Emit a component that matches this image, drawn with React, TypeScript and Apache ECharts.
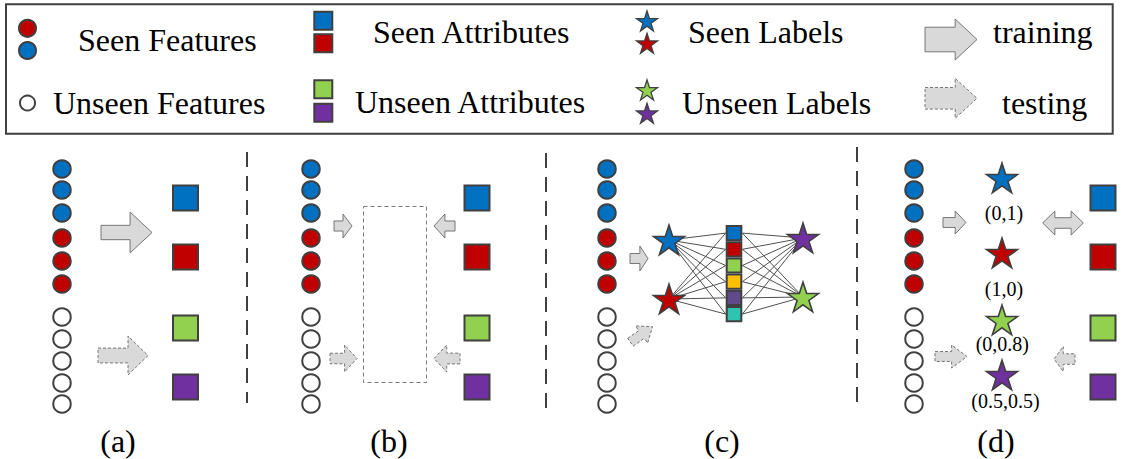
import React, { useEffect, useRef } from "react";
import * as echarts from "echarts";

const FONT_FAMILY = "Liberation Serif, Times New Roman, serif";
const INK = "#404040";
const BLUE = "#0070c0";
const RED = "#c00000";
const GREEN = "#92d050";
const PURPLE = "#7030a0";
const YELLOW = "#ffc000";
const SLATE = "#5f4b8b";
const TEAL = "#2ec4b0";
const WHITE = "#ffffff";
const ARROW_FILL = "#d9d9d9";
const ARROW_LINE = "#767676";

// ---- diagram coordinate space ----
const extentX = [0, 1122];
const extentY = [0, 459];

// ---- legend ----
const legendBoxCorners = [6, 4.3, 1112.7, 133.7]; // x0, y0, x1, y1
const legendTexts = ["Seen Features", "Unseen Features", "Seen Attributes", "Unseen Attributes", "Seen Labels", "Unseen Labels", "training", "testing"];
const legendTextX = [78, 53, 373, 355, 688, 682, 993, 1002];
const legendTextY = [39.5, 102.5, 31.5, 101.5, 31.5, 102.5, 32, 102.7];

const legendCircleX = [27.5, 27.5, 27.5];
const legendCircleY = [28.3, 50.5, 103];
const legendCircleFill = [RED, BLUE, WHITE];

const legendSquareX = [323.3, 323.3, 323.3, 323.3];
const legendSquareY = [20.7, 43.3, 89.3, 112.7];
const legendSquareFill = [BLUE, RED, GREEN, PURPLE];

const legendStarX = [647, 647, 647, 647];
const legendStarY = [21, 43.3, 90, 113.3];
const legendStarFill = [BLUE, RED, GREEN, PURPLE];

// ---- panels ----
const panelNames = ["(a)", "(b)", "(c)", "(d)"];
const panelNameX = [118, 389, 722, 996];
const panelNameY = [441, 441, 441, 441];

const featureX = [62, 311, 607, 914];
const featureY = [169, 190, 213, 238, 261, 284, 317, 339, 361, 383, 404];
const featureFill = [BLUE, BLUE, BLUE, RED, RED, RED, WHITE, WHITE, WHITE, WHITE, WHITE];

const attributeX = [185.5, 477, 1103];
const attributeY = [198, 257, 328, 387];
const attributeFill = [BLUE, RED, GREEN, PURPLE];

const separatorX = [247, 546, 857];
const separatorTop = [152, 153, 147];
const separatorBottom = [403, 417, 410];

const embeddingSpaceCorners = [363.5, 206.5, 426.5, 382.5]; // x0, y0, x1, y1

// (c) label stars and attribute vector
const starCX = [669, 669, 803, 803];
const starCY = [240, 299, 238, 297];
const starCFill = [BLUE, RED, PURPLE, GREEN];
const cellX = 734;
const cellY = [233.1, 249.3, 265.5, 281.7, 297.9, 314.1];
const cellFill = [BLUE, RED, GREEN, YELLOW, SLATE, TEAL];

// (d) label stars with codes
const starDX = [1002, 1002, 1002, 1002];
const starDY = [178, 253, 320, 375];
const starDFill = [BLUE, RED, GREEN, PURPLE];
const labelCodes = ["(0,1)", "(1,0)", "(0,0.8)", "(0.5,0.5)"];
const labelCodeX = [1004, 1004, 1002.3, 1005.5];
const labelCodeY = [212.5, 288.5, 344, 400.5];

// arrows (legend + panels)
const arrowX = [951, 951, 126.5, 123, 343, 444.5, 343.5, 447, 639, 641.5, 954.5, 1063, 951, 1064.5];
const arrowY = [39.5, 98.3, 232.5, 355.5, 226, 226, 358.5, 358.5, 258.5, 334.5, 222.5, 223, 356.5, 359];

// ---- shapes / styles (not data) ----
const ARROW_STYLE = [
  { w: 52, h: 41, shaft: 0.6, head: 0.58, rot: 0, dashed: false, double: false },
  { w: 52, h: 40, shaft: 0.54, head: 0.58, rot: 0, dashed: true, double: false },
  { w: 51, h: 41, shaft: 0.35, head: 0.57, rot: 0, dashed: false, double: false },
  { w: 50, h: 39, shaft: 0.38, head: 0.6, rot: 0, dashed: true, double: false },
  { w: 18, h: 24, shaft: 0.42, head: 0.5, rot: 0, dashed: false, double: false },
  { w: 21, h: 24, shaft: 0.42, head: 0.48, rot: 180, dashed: false, double: false },
  { w: 27, h: 27, shaft: 0.39, head: 0.54, rot: 0, dashed: true, double: false },
  { w: 26, h: 27, shaft: 0.4, head: 0.51, rot: 180, dashed: true, double: false },
  { w: 18, h: 25, shaft: 0.4, head: 0.55, rot: 0, dashed: false, double: false },
  { w: 27, h: 21, shaft: 0.45, head: 0.5, rot: 35, dashed: true, double: false },
  { w: 23, h: 23, shaft: 0.43, head: 0.53, rot: 0, dashed: false, double: false },
  { w: 40.7, h: 24, shaft: 0.44, head: 0.3, rot: 0, dashed: false, double: true },
  { w: 32, h: 23, shaft: 0.43, head: 0.52, rot: 0, dashed: true, double: false },
  { w: 21, h: 25, shaft: 0.42, head: 0.56, rot: 180, dashed: true, double: false },
];

const STAR = "path://M50 0L61.23 34.55L97.55 34.55L68.17 55.9L79.39 90.45L50 69.1L20.61 90.45L31.83 55.9L2.45 34.55L38.77 34.55Z";

function arrowOutline(s: (typeof ARROW_STYLE)[number]): number[][] {
  const hw = s.w / 2;
  const hh = s.h / 2;
  const a = (s.shaft * s.h) / 2;
  let pts: number[][];
  if (s.double) {
    const s1 = -hw + s.head * s.w;
    const s2 = hw - s.head * s.w;
    pts = [[-hw, 0], [s1, -hh], [s1, -a], [s2, -a], [s2, -hh], [hw, 0], [s2, hh], [s2, a], [s1, a], [s1, hh]];
  } else {
    const sx = -hw + s.head * s.w;
    pts = [[-hw, -a], [sx, -a], [sx, -hh], [hw, 0], [sx, hh], [sx, a], [-hw, a]];
  }
  const t = (s.rot * Math.PI) / 180;
  const c = Math.cos(t);
  const sn = Math.sin(t);
  return pts.map(([x, y]) => [x * c + y * sn, -x * sn + y * c]);
}

function buildOption() {
  const base = { type: "scatter", silent: true, clip: false, animation: false };

  const circles: any[] = [];
  featureX.forEach((x) =>
    featureY.forEach((y, i) => circles.push({ value: [x, y], itemStyle: { color: featureFill[i] } }))
  );
  legendCircleX.forEach((x, i) =>
    circles.push({ value: [x, legendCircleY[i]], symbolSize: i === 2 ? 15 : 17, itemStyle: { color: legendCircleFill[i] } })
  );

  const squares: any[] = [];
  attributeX.forEach((x) =>
    attributeY.forEach((y, i) => squares.push({ value: [x, y], itemStyle: { color: attributeFill[i] } }))
  );
  legendSquareX.forEach((x, i) =>
    squares.push({ value: [x, legendSquareY[i]], symbolSize: 18, itemStyle: { color: legendSquareFill[i] } })
  );

  const cells = cellY.map((y, i) => ({ value: [cellX, y], itemStyle: { color: cellFill[i] } }));

  const stars: any[] = [];
  starCX.forEach((x, i) => stars.push({ value: [x, starCY[i]], itemStyle: { color: starCFill[i] } }));
  starDX.forEach((x, i) => stars.push({ value: [x, starDY[i]], itemStyle: { color: starDFill[i] } }));
  legendStarX.forEach((x, i) =>
    stars.push({ value: [x, legendStarY[i]], symbolSize: [21, 20], itemStyle: { color: legendStarFill[i], borderWidth: 1.3 } })
  );

  const separators = separatorX.map((x, i) => ({ coords: [[x, separatorTop[i]], [x, separatorBottom[i]]] }));

  const edges: any[] = [];
  const half = 8.3;
  starCX.forEach((sx, si) => {
    const sy = starCY[si];
    cellY.forEach((cy) => {
      if (sx < cellX) edges.push({ coords: [[sx, sy], [cellX - half, cy]] });
      else edges.push({ coords: [[cellX + half, cy], [sx, sy]] });
    });
  });

  const texts: { x: number; y: number; t: string; size: number; align: string }[] = [];
  legendTexts.forEach((t, i) => texts.push({ x: legendTextX[i], y: legendTextY[i], t, size: 32, align: "left" }));
  panelNames.forEach((t, i) => texts.push({ x: panelNameX[i], y: panelNameY[i], t, size: 32, align: "center" }));
  labelCodes.forEach((t, i) => texts.push({ x: labelCodeX[i], y: labelCodeY[i], t, size: 20, align: "center" }));

  const boxes = [
    { c: legendBoxCorners, fill: WHITE, stroke: INK, width: 2, dash: null as any },
    { c: embeddingSpaceCorners, fill: "none", stroke: "#7a7a7a", width: 1, dash: [4, 3] },
  ];

  return {
    animation: false,
    backgroundColor: "#ffffff",
    grid: { left: 0, right: 0, top: 0, bottom: 0 },
    xAxis: { type: "value", min: extentX[0], max: extentX[1], show: false },
    yAxis: { type: "value", min: extentY[0], max: extentY[1], inverse: true, show: false },
    series: [
      {
        type: "custom",
        coordinateSystem: "cartesian2d",
        silent: true,
        clip: false,
        z: 1,
        encode: { x: 0, y: 1 },
        data: boxes.map((b) => [b.c[0], b.c[1], b.c[2], b.c[3]]),
        renderItem: (params: any, api: any) => {
          const b = boxes[params.dataIndex];
          const p0 = api.coord([api.value(0), api.value(1)]);
          const p1 = api.coord([api.value(2), api.value(3)]);
          return {
            type: "rect",
            shape: { x: p0[0], y: p0[1], width: p1[0] - p0[0], height: p1[1] - p0[1] },
            style: { fill: b.fill, stroke: b.stroke, lineWidth: b.width, lineDash: b.dash || undefined },
          };
        },
      },
      {
        type: "lines",
        coordinateSystem: "cartesian2d",
        silent: true,
        z: 2,
        lineStyle: { color: INK, width: 2, type: [15, 9], opacity: 1 },
        data: separators,
      },
      {
        type: "lines",
        coordinateSystem: "cartesian2d",
        silent: true,
        z: 2,
        lineStyle: { color: "#505050", width: 1, type: "solid", opacity: 1 },
        data: edges,
      },
      {
        type: "custom",
        coordinateSystem: "cartesian2d",
        silent: true,
        clip: false,
        z: 3,
        encode: { x: 0, y: 1 },
        data: arrowX.map((x, i) => [x, arrowY[i]]),
        renderItem: (params: any, api: any) => {
          const s = ARROW_STYLE[params.dataIndex];
          const p = api.coord([api.value(0), api.value(1)]);
          const pts = arrowOutline(s).map(([x, y]) => [p[0] + x, p[1] + y]);
          return {
            type: "polygon",
            shape: { points: pts },
            style: {
              fill: ARROW_FILL,
              stroke: ARROW_LINE,
              lineWidth: 1,
              lineDash: s.dashed ? [3, 2] : undefined,
              lineJoin: "miter",
            },
          };
        },
      },
      {
        ...base,
        z: 3,
        symbol: "circle",
        symbolSize: 17.5,
        itemStyle: { borderColor: INK, borderWidth: 2, opacity: 1 },
        data: circles,
      },
      {
        ...base,
        z: 3,
        symbol: "rect",
        symbolSize: 25,
        itemStyle: { borderColor: INK, borderWidth: 2, opacity: 1 },
        data: squares,
      },
      {
        ...base,
        z: 3,
        symbol: "rect",
        symbolSize: [14.6, 14.2],
        itemStyle: { borderColor: INK, borderWidth: 2, opacity: 1 },
        data: cells,
      },
      {
        ...base,
        z: 4,
        symbol: STAR,
        symbolSize: [31, 29.5],
        itemStyle: { borderColor: INK, borderWidth: 1.6, opacity: 1 },
        data: stars,
      },
      {
        type: "custom",
        coordinateSystem: "cartesian2d",
        silent: true,
        clip: false,
        z: 5,
        encode: { x: 0, y: 1 },
        data: texts.map((t) => [t.x, t.y]),
        renderItem: (params: any, api: any) => {
          const item = texts[params.dataIndex];
          const p = api.coord([api.value(0), api.value(1)]);
          return {
            type: "text",
            x: p[0],
            y: p[1],
            style: {
              text: item.t,
              fill: "#000000",
              font: `${item.size}px ${FONT_FAMILY}`,
              fontFamily: FONT_FAMILY,
              fontSize: item.size,
              align: item.align,
              verticalAlign: "middle",
            },
          };
        },
      },
    ],
  };
}

export default function App() {
  const ref = useRef<HTMLDivElement>(null);
  useEffect(() => {
    document.body.style.margin = "0";
    const chart = echarts.init(ref.current as HTMLDivElement, null, { renderer: "svg" });
    chart.setOption(buildOption() as any);
    return () => chart.dispose();
  }, []);
  return <div ref={ref} style={{ width: 1122, height: 459, background: "#ffffff" }} />;
}
